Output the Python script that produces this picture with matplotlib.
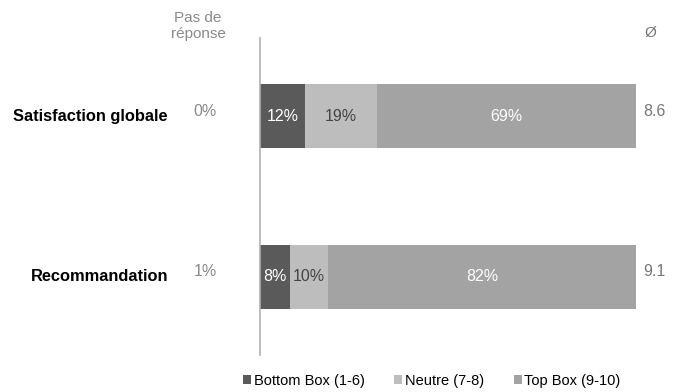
import matplotlib
matplotlib.use("Agg")
import matplotlib.pyplot as plt
from matplotlib.patches import Patch

plt.rcParams['font.family'] = ['Liberation Sans', 'DejaVu Sans']

categories = ["Satisfaction globale", "Recommandation"]
series_names = ["Bottom Box (1-6)", "Neutre (7-8)", "Top Box (9-10)"]
bottom_box = [12, 8]
neutre = [19, 10]
top_box = [69, 82]
pas_de_reponse = ["0%", "1%"]
moyennes = ["8.6", "9.1"]

colors = ["#5a5a5a", "#bdbdbd", "#a3a3a3"]
text_colors = ["white", "#444444", "white"]

fig = plt.figure(figsize=(6.79, 3.92), dpi=100)
ax = fig.add_axes([260/679, 37/392, (636-260)/679, (355-38)/392])

y = list(range(len(categories)))
left = [0] * len(categories)
for vals, col, tc in zip([bottom_box, neutre, top_box], colors, text_colors):
    ax.barh(y, vals, left=left, height=0.4, color=col, edgecolor='none')
    for yi, v, l in zip(y, vals, left):
        ax.text(l + v / 2, yi, f"{v}%", ha='center', va='center', color=tc, fontsize=11.5)
    left = [a + b for a, b in zip(left, vals)]

ax.set_xlim(0, 100)
ax.set_ylim(1.49, -0.49)
for s in ['top', 'right', 'bottom']:
    ax.spines[s].set_visible(False)
ax.spines['left'].set_color('#b0b0b0')
ax.spines['left'].set_linewidth(1.2)
ax.set_xticks([])
ax.set_yticks([])

for yi, cat, pr, m in zip(y, categories, pas_de_reponse, moyennes):
    ax.text(-0.245, yi, cat, transform=ax.get_yaxis_transform(), ha='right', va='center',
            fontsize=11.8, fontweight='bold', color='black')
    ax.text(-0.145, yi - 0.03, pr, transform=ax.get_yaxis_transform(), ha='center', va='center',
            fontsize=11.5, color='#8a8a8a')
    ax.text(1.05, yi - 0.03, m, transform=ax.get_yaxis_transform(), ha='center', va='center',
            fontsize=11.5, color='#777777')

fig.text(198/679, 1 - 26/392, "Pas de\nréponse", ha='center', va='center', fontsize=11,
         color='#8a8a8a', linespacing=1.1)
fig.text(650/679, 1 - 33/392, "Ø", ha='center', va='center', fontsize=11, color='#777777')

handles = [Patch(facecolor=c, edgecolor='none') for c in colors]
fig.legend(handles, series_names, loc='center', bbox_to_anchor=(432/679, 1 - 381/392),
           ncol=3, frameon=False, fontsize=10.5, handlelength=0.55, handleheight=0.55,
           handletextpad=0.2, columnspacing=2.0)

fig.savefig("out.png", dpi=100)
